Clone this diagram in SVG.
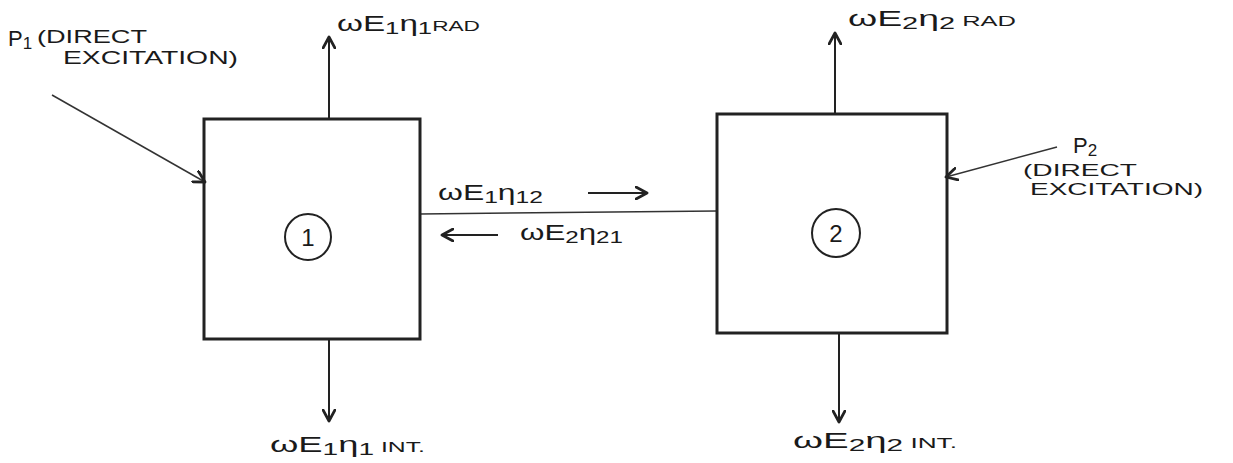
<svg xmlns="http://www.w3.org/2000/svg" width="1233" height="463" viewBox="0 0 1233 463">
<style>
.box{fill:none;stroke:#222;stroke-width:3}
.ln{fill:none;stroke:#222;stroke-width:2}
.thin{fill:none;stroke:#333;stroke-width:1.5}
.circ{fill:none;stroke:#222;stroke-width:2}
text{font-family:"Liberation Sans",Arial,sans-serif;fill:#1a1a1a}
.lbl{font-size:22px}
.sub{font-size:17px}
.sm{font-size:15px}
.px{font-size:18px}
.px2{font-size:16px}
.num{font-size:24px}
</style>
<defs>
<marker id="ah" viewBox="0 0 14 14" refX="12" refY="7" markerWidth="14" markerHeight="14" markerUnits="userSpaceOnUse" orient="auto">
<path d="M1,1 L12,7 L1,13" fill="none" stroke="#222" stroke-width="2.8" stroke-linecap="round" stroke-linejoin="round"/>
</marker>
</defs>
<g id="connectors">
<line class="ln" x1="329" y1="119" x2="329" y2="37" marker-end="url(#ah)"/>
<line class="ln" x1="329" y1="339" x2="329" y2="421" marker-end="url(#ah)"/>
<line class="ln" x1="835" y1="114" x2="835" y2="33" marker-end="url(#ah)"/>
<line class="ln" x1="839" y1="333" x2="839" y2="422" marker-end="url(#ah)"/>
<line class="thin" x1="420" y1="214" x2="717" y2="211"/>
<line class="ln" x1="588" y1="193" x2="647" y2="193" marker-end="url(#ah)"/>
<line class="ln" x1="498" y1="235" x2="442" y2="235" marker-end="url(#ah)"/>
<line class="thin" x1="52" y1="95" x2="205" y2="182" marker-end="url(#ah)"/>
<line class="thin" x1="1057" y1="147" x2="946" y2="177" marker-end="url(#ah)"/>
</g>
<g id="node1">
<rect class="box" x="204" y="119" width="216" height="220"/>
<circle class="circ" cx="308" cy="237" r="23"/>
<text class="num" x="308" y="246" text-anchor="middle">1</text>
</g>
<g id="node2">
<rect class="box" x="717" y="114" width="230" height="219"/>
<circle class="circ" cx="836" cy="233" r="24"/>
<text class="num" x="836" y="242" text-anchor="middle">2</text>
</g>
<g id="labels">
<text class="lbl" x="337" y="31" textLength="143" lengthAdjust="spacingAndGlyphs">ωE<tspan class="sub" dy="3">1</tspan><tspan dy="-3">η</tspan><tspan class="sub" dy="3">1</tspan><tspan class="sm" dy="-3">RAD</tspan></text>
<text class="lbl" x="848" y="26" textLength="168" lengthAdjust="spacingAndGlyphs">ωE<tspan class="sub" dy="3">2</tspan><tspan dy="-3">η</tspan><tspan class="sub" dy="3">2</tspan><tspan class="sm" dy="-3"> RAD</tspan></text>
<text class="lbl" x="438" y="200" textLength="105" lengthAdjust="spacingAndGlyphs">ωE<tspan class="sub" dy="3">1</tspan><tspan dy="-3">η</tspan><tspan class="sub" dy="3">12</tspan></text>
<text class="lbl" x="520" y="240" textLength="103" lengthAdjust="spacingAndGlyphs">ωE<tspan class="sub" dy="3">2</tspan><tspan dy="-3">η</tspan><tspan class="sub" dy="3">21</tspan></text>
<text class="lbl" x="270" y="452" textLength="155" lengthAdjust="spacingAndGlyphs">ωE<tspan class="sub" dy="3">1</tspan><tspan dy="-3">η</tspan><tspan class="sub" dy="3">1</tspan><tspan class="sm" dy="-3"> INT.</tspan></text>
<text class="lbl" x="793" y="448" textLength="164" lengthAdjust="spacingAndGlyphs">ωE<tspan class="sub" dy="3">2</tspan><tspan dy="-3">η</tspan><tspan class="sub" dy="3">2</tspan><tspan class="sm" dy="-3"> INT.</tspan></text>
<text class="lbl" x="8" y="46" font-size="24">P<tspan class="sub" dy="3">1</tspan></text>
<text class="px" x="37" y="43" textLength="110" lengthAdjust="spacingAndGlyphs">(DIRECT</text>
<text class="px" x="63" y="64" textLength="175" lengthAdjust="spacingAndGlyphs">EXCITATION)</text>
<text class="lbl" x="1073" y="153" font-size="20">P<tspan class="sub" font-size="15" dy="3">2</tspan></text>
<text class="px2" x="1023" y="176" textLength="114" lengthAdjust="spacingAndGlyphs">(DIRECT</text>
<text class="px2" x="1030" y="195" textLength="173" lengthAdjust="spacingAndGlyphs">EXCITATION)</text>
</g>
</svg>
